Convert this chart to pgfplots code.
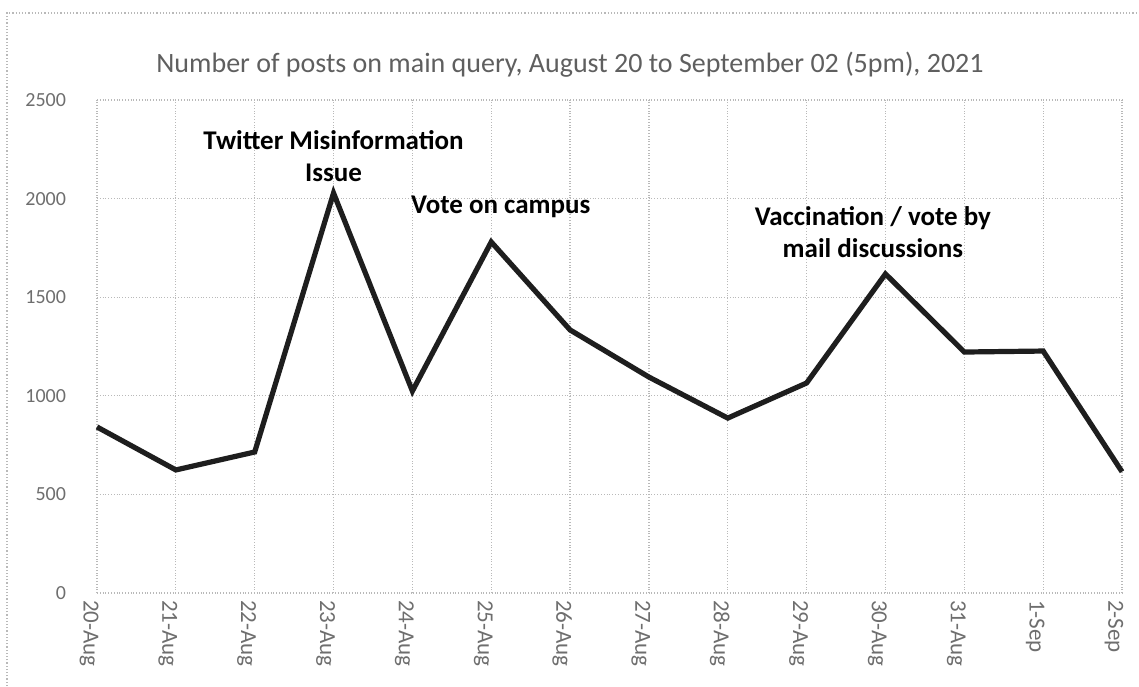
\documentclass[border=0pt]{standalone}
\usepackage{pgfplots}
\pgfplotsset{compat=1.18}
\usepackage{fontspec}
\setmainfont{Carlito}
\definecolor{gridc}{RGB}{185,185,185}
\definecolor{tickc}{RGB}{110,110,110}
\definecolor{titlec}{RGB}{95,95,95}
\definecolor{linec}{RGB}{30,30,30}
\begin{document}
\begin{tikzpicture}[x=1pt,y=1pt]
\useasboundingbox (0,0) rectangle (569.5,343);
\draw[gridc, densely dotted, line width=0.6pt] (3.5,0) -- (3.5,336.5) -- (569.5,336.5);
\node[font=\fontsize{14}{16}\selectfont, text=titlec] at (285,310.5) {Number of posts on main query, August 20 to September 02 (5pm), 2021};
\begin{axis}[
  at={(48.5pt,46.5pt)}, anchor=origin,
  scale only axis, width=512.5pt, height=246.5pt,
  xmin=0, xmax=13, ymin=0, ymax=2500,
  axis line style={draw=none},
  xtick={0,...,13},
  xticklabels={20-Aug,21-Aug,22-Aug,23-Aug,24-Aug,25-Aug,26-Aug,27-Aug,28-Aug,29-Aug,30-Aug,31-Aug,1-Sep,2-Sep},
  ytick={0,500,...,2500},
  grid=major,
  major grid style={gridc, densely dotted, line width=0.6pt},
  major tick length=0pt,
  tick label style={font=\fontsize{10}{11}\selectfont, text=tickc},
  /pgf/number format/assume math mode=true,
  /pgf/number format/1000 sep={},
  yticklabel style={xshift=-12pt},
  xticklabel style={rotate=-90, anchor=west, yshift=-4pt, font=\fontsize{11.5}{12}\selectfont},
  clip=false,
]
\addplot[linec, line width=2.6pt, line join=miter, mark=none] coordinates {
(0,842) (1,624) (2,715) (3,2028) (4,1024) (5,1780) (6,1334) (7,1095) (8,887) (9,1065) (10,1618) (11,1222) (12,1227) (13,615)
};
\node[font=\fontsize{13.5}{16}\selectfont\bfseries, align=center] at (axis cs:3,2216) {Twitter Misinformation\\Issue};
\node[font=\fontsize{13.5}{16}\selectfont\bfseries] at (axis cs:5.12,1957) {Vote on campus};
\node[font=\fontsize{13.5}{16}\selectfont\bfseries, align=center] at (axis cs:9.84,1830) {Vaccination / vote by\\mail discussions};
\end{axis}
\end{tikzpicture}
\end{document}
